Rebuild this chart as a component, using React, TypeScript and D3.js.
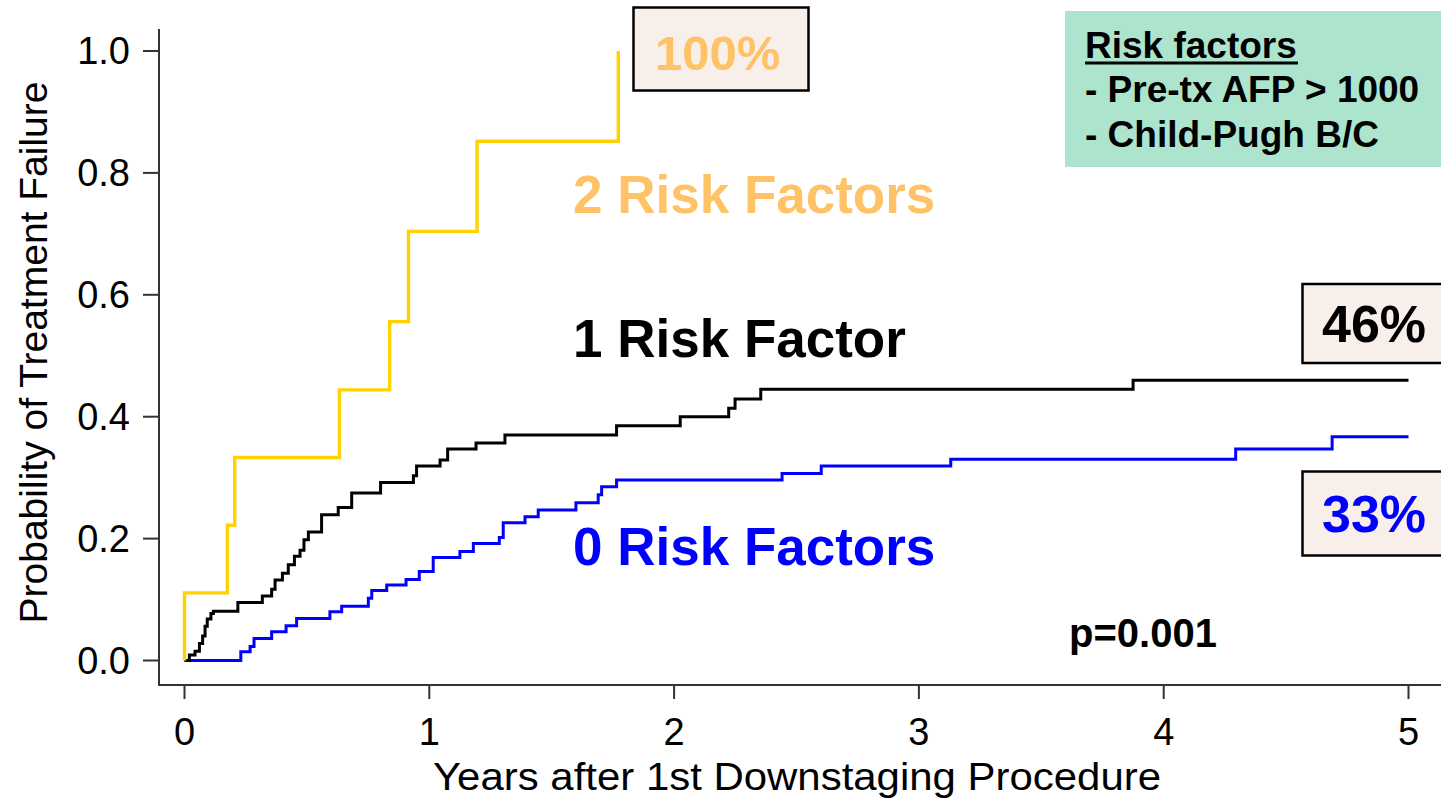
import React from "react";
import * as d3 from "d3";

// Cumulative incidence of treatment failure by number of risk factors
// (years after first downstaging procedure vs. probability)
const twoRfTimes = [0, 0.175, 0.205, 0.633, 0.838, 0.915, 1.195, 1.772];
const twoRfProbs = [0.111, 0.222, 0.333, 0.444, 0.556, 0.704, 0.852, 1.0];

const oneRfTimes = [
  0.02, 0.043, 0.061, 0.074, 0.084, 0.093, 0.108, 0.118, 0.218, 0.318, 0.356,
  0.37, 0.4, 0.424, 0.449, 0.472, 0.488, 0.506, 0.56, 0.628, 0.683, 0.801,
  0.935, 0.948, 1.044, 1.075, 1.191, 1.309, 1.765, 2.025, 2.223, 2.249, 2.354,
  3.875,
];
const oneRfProbs = [
  0.009, 0.015, 0.028, 0.04, 0.056, 0.068, 0.077, 0.081, 0.095, 0.106, 0.117,
  0.132, 0.143, 0.157, 0.171, 0.181, 0.198, 0.211, 0.239, 0.251, 0.275, 0.292,
  0.303, 0.319, 0.329, 0.347, 0.357, 0.37, 0.385, 0.4, 0.414, 0.429, 0.445,
  0.46,
];

const zeroRfTimes = [
  0.23, 0.268, 0.284, 0.356, 0.415, 0.458, 0.594, 0.642, 0.751, 0.765, 0.826,
  0.905, 0.959, 1.016, 1.125, 1.18, 1.286, 1.302, 1.391, 1.445, 1.599, 1.69,
  1.704, 1.765, 2.441, 2.601, 3.13, 4.294, 4.688,
];
const zeroRfProbs = [
  0.0145, 0.023, 0.036, 0.047, 0.057, 0.069, 0.08, 0.089, 0.102, 0.115, 0.124,
  0.133, 0.146, 0.169, 0.179, 0.192, 0.202, 0.226, 0.236, 0.247, 0.259, 0.272,
  0.285, 0.296, 0.307, 0.319, 0.33, 0.347, 0.367,
];

const followUpEnd = 5;
const xTicks = [0, 1, 2, 3, 4, 5];
const yTicks = [0, 0.2, 0.4, 0.6, 0.8, 1.0];
const riskFactorLines = ["- Pre-tx AFP > 1000", "- Child-Pugh B/C"];

type Pt = [number, number];

function buildCurve(times: number[], probs: number[], endTime: number | null): Pt[] {
  const pts: Pt[] = [[0, 0]];
  times.forEach((t, i) => pts.push([t, probs[i]]));
  if (endTime !== null) pts.push([endTime, probs[probs.length - 1]]);
  return pts;
}

const FONT = "'Liberation Sans', Arial, Helvetica, sans-serif";

export default function App() {
  const width = 1441;
  const height = 798;

  const x = d3.scaleLinear().domain([0, 5]).range([184.5, 1408.5]);
  const y = d3.scaleLinear().domain([0, 1]).range([660.5, 51]);

  const line = d3
    .line<Pt>()
    .x((d) => x(d[0]))
    .y((d) => y(d[1]))
    .curve(d3.curveStepAfter);

  const curves = [
    { pts: buildCurve(zeroRfTimes, zeroRfProbs, followUpEnd), color: "#0000ff", w: 3 },
    { pts: buildCurve(oneRfTimes, oneRfProbs, followUpEnd), color: "#000000", w: 3 },
    { pts: buildCurve(twoRfTimes, twoRfProbs, null), color: "#ffd200", w: 3.4 },
  ];

  const axisX = 159;
  const axisY = 685;
  const axisColor = "#333";

  return (
    <svg
      width={width}
      height={height}
      viewBox={`0 0 ${width} ${height}`}
      style={{ position: "absolute", left: 0, top: 0, background: "#fff" }}
      fontFamily={FONT}
    >
      <rect x={0} y={0} width={width} height={height} fill="#fff" />

      {/* axes */}
      <line x1={axisX} x2={axisX} y1={29} y2={axisY + 1} stroke={axisColor} strokeWidth={2} />
      <line x1={axisX} x2={width} y1={axisY} y2={axisY} stroke={axisColor} strokeWidth={2} />
      {yTicks.map((t) => (
        <g key={`yt${t}`}>
          <line x1={143} x2={axisX} y1={y(t)} y2={y(t)} stroke={axisColor} strokeWidth={2} />
          <text x={130} y={y(t)} dy="0.35em" textAnchor="end" fontSize={38} fill="#000">
            {t.toFixed(1)}
          </text>
        </g>
      ))}
      {xTicks.map((t) => (
        <g key={`xt${t}`}>
          <line x1={x(t)} x2={x(t)} y1={axisY} y2={699} stroke={axisColor} strokeWidth={2} />
          <text x={x(t)} y={745} textAnchor="middle" fontSize={38} fill="#000">
            {t}
          </text>
        </g>
      ))}
      <text
        x={797}
        y={790}
        textAnchor="middle"
        fontSize={38}
        fill="#000"
        textLength={728}
        lengthAdjust="spacingAndGlyphs"
      >
        Years after 1st Downstaging Procedure
      </text>
      <text
        transform="translate(47,352.5) rotate(-90)"
        textAnchor="middle"
        fontSize={39}
        fill="#000"
      >
        Probability of Treatment Failure
      </text>

      {/* step curves */}
      {curves.map((c, i) => (
        <path
          key={i}
          d={line(c.pts) || ""}
          fill="none"
          stroke={c.color}
          strokeWidth={c.w}
          strokeLinejoin="miter"
          strokeLinecap="butt"
        />
      ))}

      {/* group labels */}
      <text x={573} y={213} fontSize={53} fontWeight="bold" fill="#ffc266">
        2 Risk Factors
      </text>
      <text x={573} y={357} fontSize={53} fontWeight="bold" fill="#000">
        1 Risk Factor
      </text>
      <text x={573} y={565} fontSize={53} fontWeight="bold" fill="#0000ff">
        0 Risk Factors
      </text>

      {/* end-point percentage boxes */}
      <rect x={633.5} y={7.5} width={175} height={83} fill="#f8efea" stroke="#000" strokeWidth={2.5} />
      <text x={655} y={70} fontSize={49} fontWeight="bold" fill="#ffc266">
        100%
      </text>
      <rect x={1302.5} y={284} width={150} height={79} fill="#f8efea" stroke="#000" strokeWidth={2.5} />
      <text x={1322} y={342} fontSize={52} fontWeight="bold" fill="#000">
        46%
      </text>
      <rect x={1302.5} y={471.5} width={150} height={84} fill="#f8efea" stroke="#000" strokeWidth={2.5} />
      <text x={1322} y={532} fontSize={52} fontWeight="bold" fill="#0000ff">
        33%
      </text>

      <text x={1069} y={647} fontSize={40} fontWeight="bold" fill="#000">
        p=0.001
      </text>

      {/* risk factor definitions */}
      <rect x={1065} y={11} width={376} height={156} fill="#ace4cd" />
      <text x={1085} y={58} fontSize={37} fontWeight="bold" fill="#000">
        Risk factors
      </text>
      <line x1={1085} x2={1298} y1={63} y2={63} stroke="#000" strokeWidth={3} />
      {riskFactorLines.map((s, i) => (
        <text key={s} x={1085} y={102 + i * 45} fontSize={37} fontWeight="bold" fill="#000">
          {s}
        </text>
      ))}
    </svg>
  );
}
